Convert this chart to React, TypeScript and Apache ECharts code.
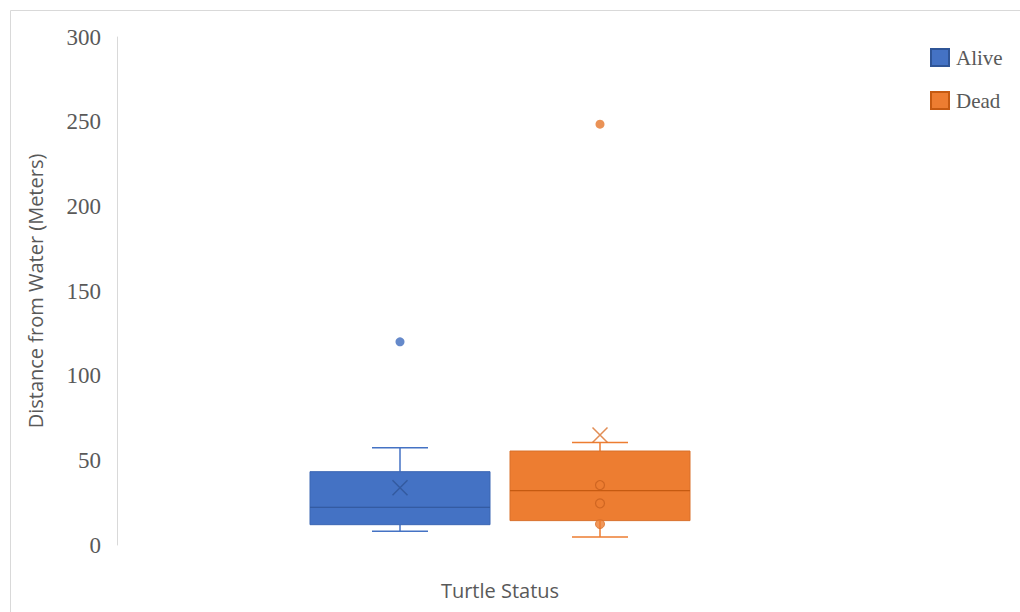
import React, { useEffect, useRef } from "react";
import * as echarts from "echarts";

const categories = ["Alive", "Dead"];
// [min whisker, Q1, median, Q3, max whisker]
const aliveBox = [8.1, 12.0, 22.3, 43.3, 57.5];
const deadBox = [4.7, 14.4, 32.1, 55.5, 60.6];
const aliveMean = [33.8];
const deadMean = [65.0];
const aliveOutliers = [120];
const deadOutliers = [248.5];
const deadInnerHollow = [35.4, 24.6];
const deadInnerFilled = [12.4];
const yTicks = { min: 0, max: 300, interval: 50 };

const ALIVE = "#4472C4";
const ALIVE_DARK = "#2F5597";
const DEAD = "#ED7D31";
const DEAD_DARK = "#C55A11";

const X_PATH = "path://M0,0L10,10M10,0L0,10";

function makeRender(fill: string, stroke: string, medianColor: string) {
  return (params: any, api: any) => {
    const cat = api.value(0);
    const vMin = api.coord([cat, api.value(1)]);
    const vQ1 = api.coord([cat, api.value(2)]);
    const vMed = api.coord([cat, api.value(3)]);
    const vQ3 = api.coord([cat, api.value(4)]);
    const vMax = api.coord([cat, api.value(5)]);
    const bw = api.size([1, 0])[0];
    const boxW = bw * 0.9;
    const capW = bw * 0.28;
    const cx = vMed[0];
    const lineStyle = { stroke: fill, lineWidth: 1.5 };
    return {
      type: "group",
      children: [
        { type: "line", shape: { x1: cx, y1: vMax[1], x2: cx, y2: vQ3[1] }, style: lineStyle },
        { type: "line", shape: { x1: cx, y1: vQ1[1], x2: cx, y2: vMin[1] }, style: lineStyle },
        { type: "line", shape: { x1: cx - capW / 2, y1: vMax[1], x2: cx + capW / 2, y2: vMax[1] }, style: lineStyle },
        { type: "line", shape: { x1: cx - capW / 2, y1: vMin[1], x2: cx + capW / 2, y2: vMin[1] }, style: lineStyle },
        {
          type: "rect",
          shape: { x: cx - boxW / 2, y: vQ3[1], width: boxW, height: vQ1[1] - vQ3[1] },
          style: { fill, stroke, lineWidth: 1 },
        },
        {
          type: "line",
          shape: { x1: cx - boxW / 2, y1: vMed[1], x2: cx + boxW / 2, y2: vMed[1] },
          style: { stroke: medianColor, lineWidth: 1.2 },
        },
      ],
    };
  };
}

export default function App() {
  const ref = useRef<HTMLDivElement>(null);
  useEffect(() => {
    if (!ref.current) return;
    const chart = echarts.init(ref.current, undefined, { renderer: "svg" });
    const serif = "'Liberation Serif', 'Times New Roman', serif";
    const sans = "'Open Sans', 'Noto Sans', sans-serif";
    chart.setOption({
      animation: false,
      backgroundColor: "#ffffff",
      graphic: [
        {
          type: "rect",
          shape: { x: 10.5, y: 10.5, width: 1030, height: 620 },
          style: { fill: "none", stroke: "#d9d9d9", lineWidth: 1 },
          silent: true,
          z: -10,
        },
      ],
      legend: {
        orient: "vertical",
        left: 925,
        top: 42,
        itemWidth: 18,
        itemHeight: 17,
        itemGap: 22,
        icon: "rect",
        data: ["Alive", "Dead"],
        textStyle: { fontFamily: serif, fontSize: 21, color: "#595959", padding: [0, 0, 0, 2] },
      },
      grid: { left: 300, right: 320, top: 37, bottom: 67 },
      xAxis: {
        type: "category",
        data: categories,
        boundaryGap: true,
        axisLine: { show: false },
        axisTick: { show: false },
        axisLabel: { show: false },
        splitLine: { show: false },
        name: "Turtle Status",
        nameLocation: "middle",
        nameGap: 35,
        nameTextStyle: { fontFamily: sans, fontSize: 20, color: "#595959" },
      },
      yAxis: {
        type: "value",
        min: yTicks.min,
        max: yTicks.max,
        interval: yTicks.interval,
        offset: 183,
        axisLine: { show: true, lineStyle: { color: "#d9d9d9", width: 1 } },
        axisTick: { show: false },
        splitLine: { show: false },
        axisLabel: { fontFamily: serif, fontSize: 23, color: "#595959", margin: 16 },
        name: "Distance from Water (Meters)",
        nameLocation: "middle",
        nameGap: 72,
        nameTextStyle: { fontFamily: sans, fontSize: 20, color: "#595959" },
      },
      series: [
        {
          name: "Alive",
          type: "custom",
          renderItem: makeRender(ALIVE, "#3B66B3", ALIVE_DARK),
          itemStyle: { color: ALIVE, borderColor: "#2F5597", borderWidth: 1 },
          encode: { x: 0, y: [1, 2, 3, 4, 5] },
          data: [[0, ...aliveBox]],
          z: 2,
        },
        {
          name: "Dead",
          type: "custom",
          renderItem: makeRender(DEAD, "#D9702A", DEAD_DARK),
          itemStyle: { color: DEAD, borderColor: "#C55A11", borderWidth: 1 },
          encode: { x: 0, y: [1, 2, 3, 4, 5] },
          data: [[1, ...deadBox]],
          z: 2,
        },
        {
          name: "Alive",
          type: "scatter",
          symbol: "circle",
          symbolSize: 9,
          itemStyle: { color: "#3F6BBD" },
          data: aliveOutliers.map((v) => [categories[0], v]),
          z: 3,
        },
        {
          name: "Dead",
          type: "scatter",
          symbol: "circle",
          symbolSize: 9,
          itemStyle: { color: "#E5772C" },
          data: deadOutliers.map((v) => [categories[1], v]),
          z: 3,
        },
        {
          name: "Alive",
          type: "scatter",
          symbol: X_PATH,
          symbolSize: 15,
          itemStyle: { color: "none", borderColor: ALIVE_DARK, borderWidth: 1.5 },
          data: aliveMean.map((v) => [categories[0], v]),
          z: 4,
        },
        {
          name: "Dead",
          type: "scatter",
          symbol: X_PATH,
          symbolSize: 15,
          itemStyle: { color: "none", borderColor: "#D9702A", borderWidth: 1.5 },
          data: deadMean.map((v) => [categories[1], v]),
          z: 4,
        },
        {
          name: "Dead",
          type: "scatter",
          symbol: "circle",
          symbolSize: 9,
          itemStyle: { color: "none", borderColor: "#C8601E", borderWidth: 1.2 },
          data: deadInnerHollow.map((v) => [categories[1], v]),
          z: 4,
        },
        {
          name: "Dead",
          type: "scatter",
          symbol: "circle",
          symbolSize: 9,
          itemStyle: { color: DEAD, borderColor: "#D9702A", borderWidth: 1 },
          data: deadInnerFilled.map((v) => [categories[1], v]),
          z: 4,
        },
      ],
    });
    return () => chart.dispose();
  }, []);
  return (
    <div
      ref={ref}
      style={{ position: "fixed", left: 0, top: 0, width: 1020, height: 612 }}
    />
  );
}
